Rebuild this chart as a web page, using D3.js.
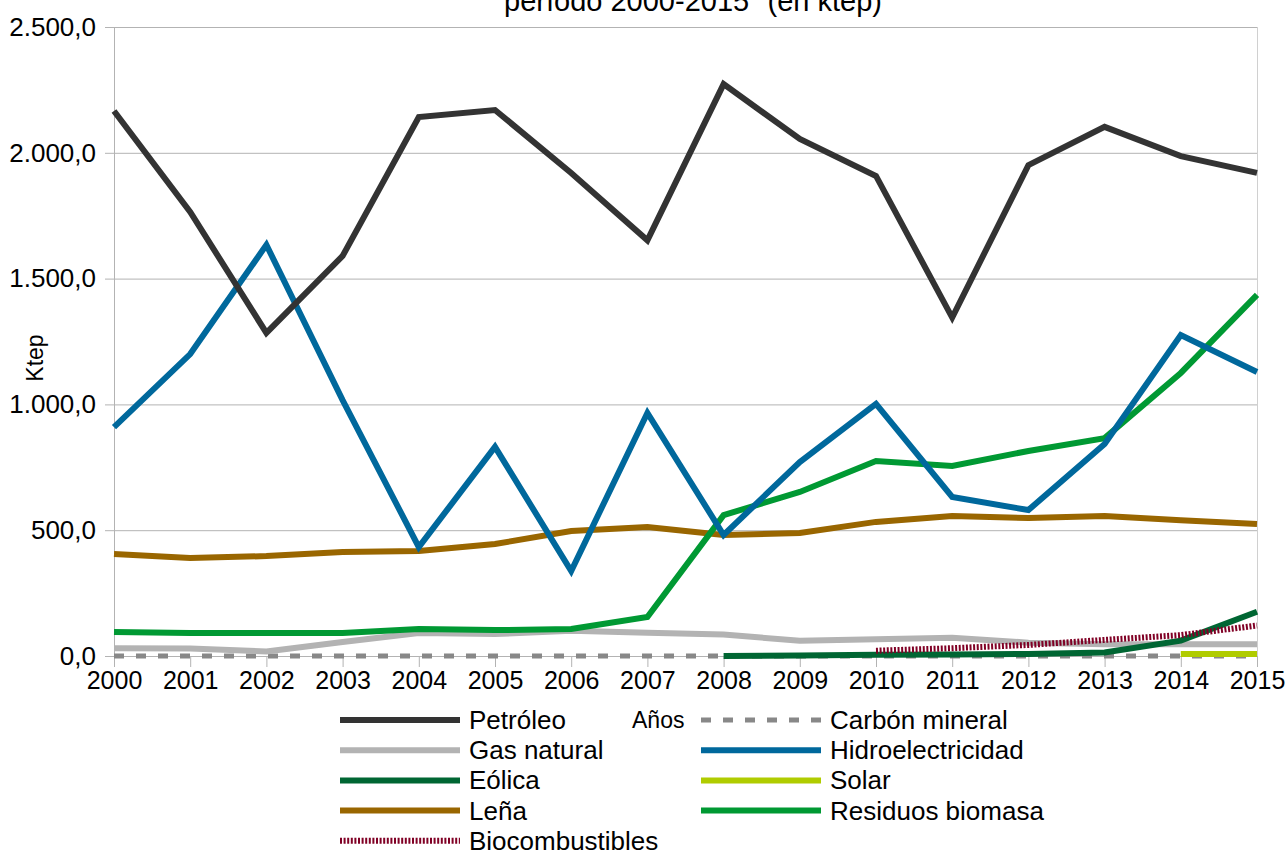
<!DOCTYPE html>
<html>
<head>
<meta charset="utf-8">
<script src="https://cdn.jsdelivr.net/npm/d3@7"></script>
<style>
  body { margin: 0; background: #fff; }
  svg { font-family: "Liberation Sans", Arial, sans-serif; }
</style>
</head>
<body>
<div id="graph"></div>
<script>
const w = 1288;
const h = 852;

const years = [2000, 2001, 2002, 2003, 2004, 2005, 2006, 2007, 2008, 2009, 2010, 2011, 2012, 2013, 2014, 2015];
const yTicks = [0, 500, 1000, 1500, 2000, 2500];

// valores en ktep, null = sin dato
const petroleo = [2166, 1765, 1284, 1590, 2142, 2170, 1920, 1652, 2273, 2055, 1908, 1345, 1951, 2103, 1987, 1920];
const carbon = [0, 0, 0, 0, 0, 0, 0, 0, 0, 0, 0, 0, 0, 0, 0, 0];
const gasNatural = [31, 30, 18, 56, 91, 87, 100, 92, 85, 61, 67, 73, 53, 47, 47, 47];
const hidro = [910, 1200, 1634, 1017, 433, 831, 338, 966, 481, 771, 1002, 632, 580, 843, 1276, 1129];
const eolica = [null, null, null, null, null, null, null, null, 0, 2, 5, 6, 8, 14, 61, 176];
const solar = [null, null, null, null, null, null, null, null, null, null, null, null, null, null, 8, 8];
const lena = [405, 390, 397, 413, 417, 445, 497, 513, 481, 489, 533, 556, 548, 556, 540, 525];
const residuos = [95, 91, 91, 91, 107, 103, 107, 155, 560, 652, 775, 755, 815, 866, 1125, 1435];
const biocomb = [null, null, null, null, null, null, null, null, null, null, 21, 31, 44, 64, 83, 121];

const series = [
  { name: "Petróleo", values: petroleo, color: "#333333", width: 6 },
  { name: "Carbón mineral", values: carbon, color: "#888888", width: 5, dash: "10,12" },
  { name: "Gas natural", values: gasNatural, color: "#b3b3b3", width: 6 },
  { name: "Hidroelectricidad", values: hidro, color: "#00689c", width: 6 },
  { name: "Eólica", values: eolica, color: "#006633", width: 6 },
  { name: "Solar", values: solar, color: "#b0cc00", width: 6 },
  { name: "Leña", values: lena, color: "#996600", width: 6 },
  { name: "Residuos biomasa", values: residuos, color: "#009933", width: 6 },
  { name: "Biocombustibles", values: biocomb, color: "#800025", width: 6, dash: "2,1.6" }
];

// orden de dibujo (los de abajo primero)
const drawOrder = ["Carbón mineral", "Gas natural", "Solar", "Leña", "Residuos biomasa", "Hidroelectricidad", "Petróleo", "Eólica", "Biocombustibles"];

const padL = 114, padR = 1257, padT = 27, padB = 656;

const xScale = d3.scaleLinear().
domain([2000, 2015]).
range([padL, padR]);

const yScale = d3.scaleLinear().
domain([0, 2500]).
range([padB, padT]);

const fmt = v => d3.format(",.1f")(v).replace(/,/g, "#").replace(".", ",").replace(/#/g, ".");

const svg = d3.select("#graph").
append("svg").
attr("width", w).
attr("height", h);

// titulo (cortado arriba)
svg.append("text").
attr("x", 693).
attr("y", 11).
attr("text-anchor", "middle").
attr("font-size", 29).
text("período 2000-2015\" (en ktep)");

// lineas de la grilla
svg.append("g").
selectAll("line").
data(yTicks).
enter().
append("line").
attr("x1", padL - 9).
attr("x2", padR).
attr("y1", d => yScale(d) + 0.5).
attr("y2", d => yScale(d) + 0.5).
attr("stroke", "#b3b3b3").
attr("stroke-width", 1);

// borde derecho
svg.append("line").
attr("x1", padR + 0.5).attr("x2", padR + 0.5).
attr("y1", padT).attr("y2", padB + 10).
attr("stroke", "#d0d0d0");

const yAxis = d3.axisLeft(yScale).
tickValues(yTicks).
tickSize(0).
tickPadding(18).
tickFormat(fmt);

svg.append("g").
attr("id", "y-axis").
attr("transform", "translate(" + padL + ",0)").
call(yAxis).
call(g => g.select(".domain").remove()).
call(g => g.selectAll("text").attr("font-size", 26).attr("fill", "#000").attr("font-family", "Liberation Sans, Arial, sans-serif"));

svg.append("line").
attr("x1", padL + 0.5).attr("x2", padL + 0.5).
attr("y1", padT).attr("y2", padB).
attr("stroke", "#b3b3b3");

const xAxis = d3.axisBottom(xScale).
tickValues(years).
tickSize(11).
tickPadding(4).
tickFormat(d3.format("d"));

svg.append("g").
attr("id", "x-axis").
attr("transform", "translate(0," + padB + ")").
call(xAxis).
call(g => g.select(".domain").remove()).
call(g => g.selectAll("line").attr("stroke", "#b3b3b3")).
call(g => g.selectAll("text").attr("font-size", 25).attr("fill", "#000").attr("font-family", "Liberation Sans, Arial, sans-serif"));

svg.append("text").
attr("transform", "translate(43,358) rotate(-90)").
attr("text-anchor", "middle").
attr("font-size", 23).
text("Ktep");

const line = d3.line().
defined(d => d[1] != null).
x(d => xScale(d[0])).
y(d => yScale(d[1]));

drawOrder.forEach(name => {
  const s = series.find(item => item.name == name);
  svg.append("path").
  datum(years.map((y, i) => [y, s.values[i]])).
  attr("d", line).
  attr("fill", "none").
  attr("stroke", s.color).
  attr("stroke-width", s.width).
  attr("stroke-dasharray", s.dash || null).
  attr("stroke-linejoin", "miter").
  attr("stroke-linecap", "butt");
});

// leyenda, dos columnas
const legX = [340, 701];
const legY0 = 720, legStep = 30.2;

svg.append("text").
attr("x", 632).
attr("y", legY0 + 8).
attr("font-size", 23).
text("Años");

const leg = svg.append("g").
selectAll("g").
data(series).
enter().
append("g").
attr("transform", (d, i) => "translate(" + legX[i % 2] + "," + (legY0 + Math.floor(i / 2) * legStep) + ")");

leg.append("line").
attr("x1", 0).
attr("x2", 120).
attr("y1", 0).
attr("y2", 0).
attr("stroke", d => d.color).
attr("stroke-width", d => d.width).
attr("stroke-dasharray", d => d.dash || null);

leg.append("text").
attr("x", 129).
attr("y", 9).
attr("font-size", 26).
text(d => d.name);
</script>
</body>
</html>
